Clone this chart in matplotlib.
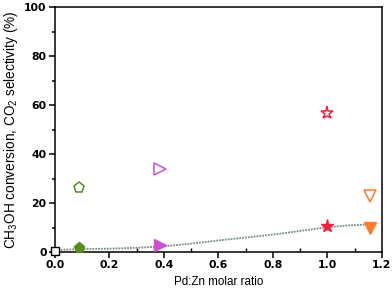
import matplotlib
matplotlib.use("Agg")
import matplotlib.pyplot as plt
from matplotlib.ticker import MultipleLocator

plt.rcParams["font.family"] = ["Liberation Sans", "DejaVu Sans"]
plt.rcParams["mathtext.fontset"] = "custom"
plt.rcParams["mathtext.rm"] = "Liberation Sans"

# valores
ratio = [0.0, 0.088, 0.385, 1.0, 1.155]
conversion = [0.5, 1.5, 2.7, 10.5, 10.0]       # marcadores rellenos
selectividad = [None, 26.0, 34.0, 57.0, 23.0]   # marcadores huecos
marcadores = ["s", "p", ">", "*", "v"]
colores = ["black", "#5b8c1a", "#cc4fd6", "#f0203c", "#ff7a2a"]

# linea de tendencia
tend_x = [0.0, 0.1, 0.2, 0.3, 0.4, 0.5, 0.6, 0.7, 0.8, 0.9, 1.0, 1.08, 1.15]
tend_y = [0.8, 1.2, 1.35, 1.7, 2.3, 3.4, 4.7, 5.9, 7.1, 8.6, 10.1, 10.9, 11.2]

fig = plt.figure(figsize=(3.92, 2.93), dpi=100)
ax = fig.add_axes([0.140, 0.140, 0.834, 0.835])

ax.plot(tend_x, tend_y, ls=(0, (1, 0.6)), color="#7a8a8a", lw=1.3, zorder=2)

for x, yc, ys, m, c in zip(ratio, conversion, selectividad, marcadores, colores):
    tam = 9.5 if m == "*" else 8
    if m == "s":
        ax.plot(x, yc, m, ms=5.5, mfc="white", mec=c, mew=1.0, zorder=3, clip_on=False)
        continue
    ax.plot(x, yc, m, ms=tam, color=c, mec=c, zorder=3)
    ax.plot(x, ys, m, ms=tam, mfc="none", mec=c, mew=1.1, zorder=3)

ax.set_xlim(0, 1.2)
ax.set_ylim(0, 100)
ax.xaxis.set_major_locator(MultipleLocator(0.2))
ax.xaxis.set_minor_locator(MultipleLocator(0.1))
ax.yaxis.set_major_locator(MultipleLocator(20))
ax.yaxis.set_minor_locator(MultipleLocator(10))
ax.tick_params(axis="x", which="major", direction="out", length=4, width=1.1)
ax.tick_params(axis="x", which="minor", direction="in", length=3, width=1)
ax.tick_params(axis="y", which="both", direction="out", width=1.1)
ax.tick_params(axis="y", which="major", length=4)
ax.tick_params(axis="y", which="minor", length=2.5)
ax.tick_params(labelsize=7.8, pad=2)
for lab in ax.get_xticklabels() + ax.get_yticklabels():
    lab.set_fontweight("bold")
    lab.set_family("DejaVu Sans")
for s in ax.spines.values():
    s.set_linewidth(1.1)

ax.set_xlabel("Pd:Zn molar ratio", fontsize=8.4, labelpad=4)
ax.set_ylabel(r"CH$_3$OH conversion, CO$_2$ selectivity (%)", fontsize=9.8, labelpad=3)

fig.savefig("out.png", dpi=100)
